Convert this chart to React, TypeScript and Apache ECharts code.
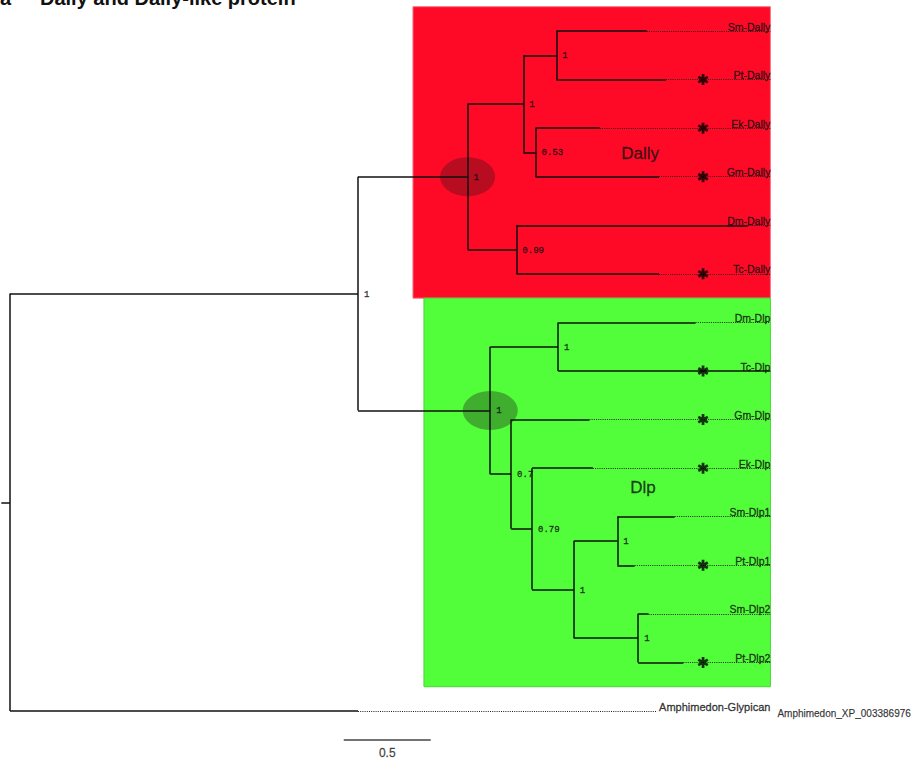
import React, { useEffect, useRef } from "react";
import * as echarts from "echarts";

// ---------------- data ----------------
// Tree in pre-order: name ("" for internal nodes), parent index, branch length, support
const nodeNames = [
  "", "", "", "", "", "Sm-Dally", "Pt-Dally", "", "Ek-Dally", "Gm-Dally", "", "Dm-Dally", "Tc-Dally",
  "", "", "Dm-Dlp", "Tc-Dlp", "", "Gm-Dlp", "", "Ek-Dlp", "", "", "Sm-Dlp1", "Pt-Dlp1", "", "Sm-Dlp2", "Pt-Dlp2",
  "Amphimedon-Glypican",
];
const nodeParents = [
  -1, 0, 1, 2, 3, 4, 4, 3, 7, 7, 2, 10, 10,
  1, 13, 14, 14, 13, 17, 17, 19, 19, 21, 22, 22, 21, 25, 25,
  0,
];
const branchLengths = [
  0, 2.0, 0.63, 0.32, 0.19, 0.52, 0.63, 0.07, 0.37, 0.71, 0.28, 1.33, 0.82,
  0.76, 0.39, 0.79, 1.22, 0.12, 0.45, 0.12, 0.35, 0.24, 0.25, 0.33, 0.1, 0.37, 0.06, 0.26,
  2.0,
];
const supportValues = [
  "", "1", "1", "1", "1", "", "", "0.53", "", "", "0.99", "", "",
  "1", "1", "", "", "0.7", "", "0.79", "", "1", "1", "", "", "1", "", "",
  "",
];
const starredLeaves = ["Pt-Dally", "Ek-Dally", "Gm-Dally", "Tc-Dally", "Tc-Dlp", "Gm-Dlp", "Ek-Dlp", "Pt-Dlp1", "Pt-Dlp2"];
const cladeNames = ["Dally", "Dlp"];
const cladeNodes = [2, 13];
const outgroupName = "Amphimedon-Glypican";
const outgroupAccession = "Amphimedon_XP_003386976";
const scaleBarLength = 0.5;
const titleLetter = "a";
const titleText = "Dally and Dally-like protein";

// ---------------- layout ----------------
const W = 913;
const H = 764;
const pxPerUnit = 174;
const rootPx = 10;
const pxPerLeaf = 680 / 14;
const firstLeafPx = 31;
const labelEnd = 4.37;
const starX = 3.983;
const outgroupDotEnd = 3.72;
const cladeBoxLeft = [2.316, 2.379];
const cladeBoxColors = ["#fe0a27", "#52fe3a"];
const cladeBoxBorders = ["#f5707e", "#45d830"];
const cladeEllipseColors = ["#a60d1f", "#3b9a2c"];
const cladeLabelPos = [[3.621, 2.53], [3.638, 9.4]];
const scaleBarStart = 1.918;
const scaleBarY = 14.6;
const FONT = "'Liberation Sans', Arial, sans-serif";
const MONO = "'Liberation Mono', 'DejaVu Sans Mono', monospace";
// 6-armed asterisk: three bars (vertical, +30deg, -30deg), half-length 5, half-width 1.25
const STAR_PATH =
  "path://M-1.25,-5L1.25,-5L1.25,5L-1.25,5Z" +
  "M-3.705,-3.583L4.955,1.417L3.705,3.583L-4.955,-1.417Z" +
  "M4.955,-1.417L-3.705,3.583L-4.955,1.417L3.705,-3.583Z";

function buildTree() {
  const n = nodeNames.length;
  const children: number[][] = Array.from({ length: n }, () => []);
  nodeParents.forEach((p, i) => { if (p >= 0) children[p].push(i); });
  const depth = new Array(n).fill(0);
  for (let i = 0; i < n; i++) depth[i] = nodeParents[i] >= 0 ? depth[nodeParents[i]] + branchLengths[i] : 0;
  const y = new Array(n).fill(0);
  let leaf = 0;
  for (let i = 0; i < n; i++) if (children[i].length === 0) y[i] = leaf++;
  for (let i = n - 1; i >= 0; i--) {
    if (children[i].length) {
      const ys = children[i].map((c) => y[c]);
      y[i] = (Math.min(...ys) + Math.max(...ys)) / 2;
    }
  }
  return { children, depth, y };
}

function leafRange(node: number, children: number[][], y: number[]): [number, number] {
  if (!children[node].length) return [y[node], y[node]];
  let lo = Infinity, hi = -Infinity;
  children[node].forEach((c) => {
    const [a, b] = leafRange(c, children, y);
    lo = Math.min(lo, a); hi = Math.max(hi, b);
  });
  return [lo, hi];
}

export default function App() {
  const ref = useRef<HTMLDivElement>(null);
  useEffect(() => {
    if (!ref.current) return;
    const chart = echarts.init(ref.current, null, { renderer: "svg" });
    const { children, depth, y } = buildTree();
    const n = nodeNames.length;

    const solid: any[] = [];
    const dotted: any[] = [];
    const rootIdx = nodeParents.indexOf(-1);
    solid.push({ coords: [[-0.05, y[rootIdx]], [0, y[rootIdx]]] });
    for (let i = 0; i < n; i++) {
      const p = nodeParents[i];
      if (p >= 0) solid.push({ coords: [[depth[p], y[i]], [depth[i], y[i]]] });
      if (children[i].length) {
        const ys = children[i].map((c) => y[c]);
        solid.push({ coords: [[depth[i], Math.min(...ys)], [depth[i], Math.max(...ys)]] });
      } else {
        const end = nodeNames[i] === outgroupName ? outgroupDotEnd : labelEnd;
        if (depth[i] < end) dotted.push({ coords: [[depth[i], y[i]], [end, y[i]]] });
      }
    }

    const leaves = nodeNames.map((nm, i) => ({ nm, i })).filter((o) => !children[o.i].length);
    const leafLabels = leaves.map((o) => ({
      value: [labelEnd, y[o.i]],
      label: { formatter: o.nm, fontSize: o.nm === outgroupName ? 11 : 10.5 },
    }));
    const supportData = supportValues
      .map((s, i) => ({ s, i }))
      .filter((o) => o.s)
      .map((o) => ({ value: [depth[o.i], y[o.i]], label: { formatter: o.s } }));
    const starData = leaves.filter((o) => starredLeaves.includes(o.nm)).map((o) => [starX, y[o.i]]);
    const outIdx = nodeNames.indexOf(outgroupName);

    const boxAreas = cladeNodes.map((cn, k) => {
      const [lo, hi] = leafRange(cn, children, y);
      return [
        { xAxis: cladeBoxLeft[k], yAxis: lo - 0.5, itemStyle: { color: cladeBoxColors[k], borderColor: cladeBoxBorders[k], borderWidth: 1 } },
        { xAxis: labelEnd, yAxis: hi + 0.5 },
      ];
    });

    const txt = { textBorderColor: "#111", textBorderWidth: 0.35 };

    const option: any = {
      animation: false,
      grid: { left: 0, right: 0, top: 0, bottom: 0 },
      xAxis: { type: "value", min: -rootPx / pxPerUnit, max: (W - rootPx) / pxPerUnit, show: false },
      yAxis: { type: "value", inverse: true, min: -firstLeafPx / pxPerLeaf, max: (H - firstLeafPx) / pxPerLeaf, show: false },
      graphic: [
        { type: "text", x: 0, y: 5 - 0.3465 * 20, style: { text: titleLetter, font: `bold 20px ${FONT}`, fill: "#111", verticalAlign: "middle" } },
        { type: "text", x: 40, y: 5 - 0.3465 * 20, style: { text: titleText, font: `bold 20px ${FONT}`, fill: "#111", verticalAlign: "middle" } },
      ],
      series: [
        {
          type: "scatter", data: [], silent: true, z: 1,
          markArea: { silent: true, data: boxAreas },
        },
        {
          type: "scatter", silent: true, z: 2, clip: false,
          data: cladeNodes.map((cn, k) => ({ value: [depth[cn], y[cn]], itemStyle: { color: cladeEllipseColors[k] } })),
          symbol: "circle", symbolSize: [55, 39],
        },
        {
          type: "lines", coordinateSystem: "cartesian2d", silent: true, z: 3, clip: false,
          data: dotted, lineStyle: { color: "#1e1e1e", width: 1, type: [1, 1.2], opacity: 1 },
        },
        {
          type: "lines", coordinateSystem: "cartesian2d", silent: true, z: 4, clip: false,
          data: solid, lineStyle: { color: "#111", width: 1.5, opacity: 1 },
        },
        {
          type: "scatter", silent: true, z: 5, clip: false, symbolSize: 0, data: leafLabels,
          label: { show: true, position: "left", distance: 0, offset: [0, -4.5], color: "#111", fontFamily: FONT, ...txt },
        },
        {
          type: "scatter", silent: true, z: 5, clip: false, symbolSize: 0,
          data: [{ value: [labelEnd, y[outIdx]], label: { formatter: outgroupAccession } }],
          label: { show: true, position: "right", distance: 7, offset: [0, 2], fontSize: 10, color: "#111", fontFamily: FONT, textBorderColor: "#111", textBorderWidth: 0.25 },
        },
        {
          type: "scatter", silent: true, z: 5, clip: false, symbolSize: 0, data: supportData,
          label: { show: true, position: "right", distance: 6, offset: [0, 1], fontSize: 9, color: "#111", fontFamily: MONO, ...txt },
        },
        {
          type: "scatter", silent: true, z: 6, clip: false, data: starData,
          symbol: STAR_PATH, symbolSize: [11, 11], symbolKeepAspect: true,
          itemStyle: { color: "#000" },
        },
        {
          type: "scatter", silent: true, z: 6, clip: false, symbolSize: 0,
          data: cladeNames.map((c, k) => ({ value: cladeLabelPos[k], label: { formatter: c } })),
          label: { show: true, position: "inside", fontSize: 17, color: "#111", fontFamily: FONT, textBorderColor: "#111", textBorderWidth: 0.3 },
        },
        {
          type: "lines", coordinateSystem: "cartesian2d", silent: true, z: 4, clip: false,
          data: [{ coords: [[scaleBarStart, scaleBarY], [scaleBarStart + scaleBarLength, scaleBarY]] }],
          lineStyle: { color: "#444", width: 1.6, opacity: 1 },
        },
        {
          type: "scatter", silent: true, z: 5, clip: false, symbolSize: 0,
          data: [{ value: [scaleBarStart + scaleBarLength / 2, scaleBarY], label: { formatter: String(scaleBarLength) } }],
          label: { show: true, position: "bottom", distance: 7, fontSize: 12, color: "#222", fontFamily: FONT, textBorderColor: "#222", textBorderWidth: 0.3 },
        },
      ],
    };
    chart.setOption(option);
    return () => chart.dispose();
  }, []);
  return <div ref={ref} style={{ position: "absolute", left: 0, top: 0, width: W, height: H, background: "#fff" }} />;
}
